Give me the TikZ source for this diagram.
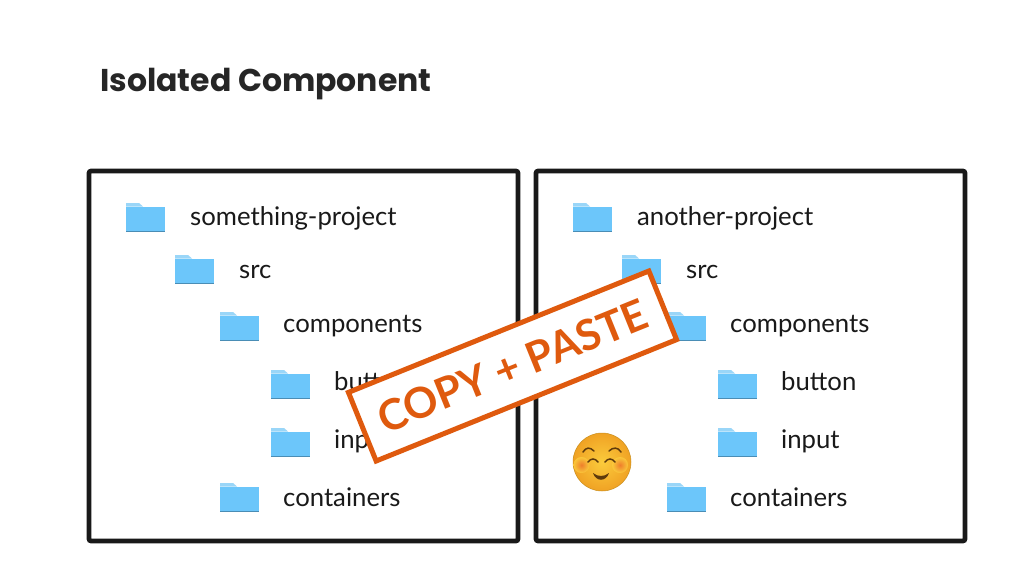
\documentclass[tikz,border=0pt]{standalone}
\usepackage{fontspec}
\setmainfont{Lato}
\newfontfamily\titlefont{Poppins}
\usetikzlibrary{positioning}
\definecolor{stampred}{HTML}{DF5A0E}
\definecolor{folderblue}{HTML}{6CC6FA}
\definecolor{foldertab}{HTML}{9AD6F8}
\definecolor{folderedge}{HTML}{4A8DB5}
\definecolor{facelight}{HTML}{FBCB3C}
\definecolor{facedark}{HTML}{F0A224}
\definecolor{faceedge}{HTML}{C98F1E}
\definecolor{blush}{HTML}{EE7A2C}
\definecolor{browline}{HTML}{5E3A0C}
\tikzset{
  pics/folder/.style={code={
    \fill[foldertab] (0,3.5) -- (0,0) -- (13,0) -- (17,3.5) -- cycle;
    \fill[folderblue] (0,3.5) rectangle (39,29);
    \fill[folderedge] (0,28) rectangle (39,29);
  }}
}
\begin{document}
\begin{tikzpicture}[
  x=1pt,y=-1pt,
  panel/.style={draw=black!90,line width=4.6pt,rounded corners=2pt,fill=white},
  item/.style={anchor=base west,inner sep=0pt,font=\fontsize{25.7}{30}\selectfont,text=black!90},
  stamp/.style={draw=stampred,line width=5pt,fill=white,rotate=22,minimum width=324pt,minimum height=74pt,
    inner sep=0pt,text=stampred,font=\fontsize{42.5}{50}\selectfont\bfseries},
  brow/.style={draw=browline,line width=1.5pt,line cap=round}
]
  \useasboundingbox (0,0) rectangle (1024,576);
  \node[anchor=base west,inner sep=0pt,font=\titlefont\fontsize{31.5}{36}\selectfont\bfseries,text=black!85] (title) at (100,91) {Isolated Component};

  \foreach \side/\dx/\root in {left/0/something-project,right/447/another-project}{
    \begin{scope}[xshift=\dx pt]
      \path[panel] (89,171) rectangle (518,541);
      \pic at (126,203) {folder};
      \pic at (175,255) {folder};
      \pic at (220,312) {folder};
      \pic at (271,370) {folder};
      \pic at (271,428) {folder};
      \pic at (220,483) {folder};
      \node[item] (\side root) at (190,225.5) {\root};
      \node[item] (\side src) at (239,278.5) {src};
      \node[item] (\side components) at (283,332.5) {components};
      \node[item] (\side button) at (334,390.5) {button};
      \node[item] (\side input) at (334,448.5) {input};
      \node[item] (\side containers) at (283,506.5) {containers};
    \end{scope}
  }

  \node[stamp] (copypaste) at (512.5,366) {COPY + PASTE};

  % smiling face
  \node[circle,minimum size=58pt,inner sep=0pt,draw=faceedge,line width=.5pt,inner color=facelight,outer color=facedark] (face) at (602,462) {};
  \shade[inner color=blush,outer color=blush!0!facelight,opacity=.9] (581.5,465) circle (8);
  \shade[inner color=blush,outer color=blush!0!facelight,opacity=.9] (620,465) circle (8);
  \draw[brow] (583,452) .. controls (586,447) and (590,447) .. (594,451);
  \draw[brow] (609,451) .. controls (613,447) and (618,447) .. (621,452);
  \draw[brow] (588,462) .. controls (591,458) and (595,458) .. (598,462);
  \draw[brow] (605,462) .. controls (608,458) and (612,458) .. (615,462);
  \fill[browline] (593,473) .. controls (598,477) and (604,477) .. (609,473) .. controls (606,482) and (596,482) .. (593,473) -- cycle;
\end{tikzpicture}
\end{document}
